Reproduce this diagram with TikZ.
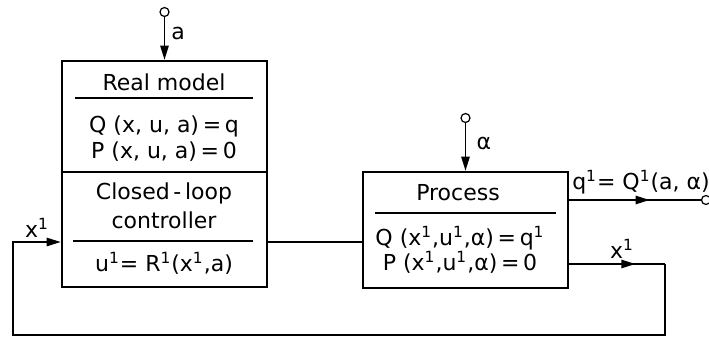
\documentclass[tikz,border=0pt]{standalone}
\usepackage{fontspec}
\setmainfont{DejaVu Sans}
\usetikzlibrary{arrows.meta, positioning, calc, decorations.markings}
\tikzset{
	blockbox/.style={draw, line width=1.3pt, minimum width=102.5pt, inner sep=0pt},
	txt/.style={font=\fontsize{11}{12}\selectfont, inner sep=1pt},
	sigline/.style={line width=0.7pt},
	sigarr/.style={sigline, -{Triangle[length=7pt, width=4.2pt]}},
	midarr/.style={sigline, decoration={markings, mark=at position #1 with {\arrow{Triangle[length=7pt, width=4.2pt]}}}, postaction={decorate}},
	terminal/.style={draw, circle, minimum size=4.5pt, inner sep=0pt, line width=0.6pt},
}

\begin{document}
\begin{tikzpicture}[x=0.5pt, y=-0.5pt]
	\useasboundingbox (0,0) rectangle (709,338);
	% blocks
	\node[blockbox, minimum height=113pt] (model) at (164.5,174) {};
	\node[blockbox, minimum height=58pt] (proc) at (465.5,230) {};
	% real model / controller
	\node[txt] (mtitle) at (164,82) {Real model};
	\draw[sigline] (75,98) -- (253,98);
	\node[txt] (mq) at (164,126) {Q (x, u, a)\,=\,q};
	\node[txt] (mp) at (164,152) {P (x, u, a)\,=\,0};
	\draw[line width=1pt] (model.west |- 0,172) -- (model.east |- 0,172);
	\node[txt] (ctitle) at (164,193) {Closed\,-\,loop};
	\node[txt] (ctitle2) at (164,220) {controller};
	\draw[sigline] (73,241) -- (253,241);
	\node[txt] (claw) at (164,263) {u\textsuperscript{1}= R\textsuperscript{1}(x\textsuperscript{1},a)};
	% process
	\node[txt] (ptitle) at (458,193) {Process};
	\draw[sigline] (375,213) -- (556,213);
	\node[txt] (pq) at (460,238) {Q (x\textsuperscript{1},u\textsuperscript{1},α)\,=\,q\textsuperscript{1}};
	\node[txt] (pp) at (460,262) {P (x\textsuperscript{1},u\textsuperscript{1},α)\,=\,0};
	% inputs
	\node[terminal] (ain) at (164.5,12) {};
	\node[terminal] (alin) at (465.5,118) {};
	\node[txt] (alab) at (178,33) {a};
	\node[txt] (allab) at (484,143) {α};
	\draw[sigarr] (ain) -- (model.north);
	\draw[sigarr] (alin) -- (proc.north);
	% signals
	\coordinate (uline) at (0,242);
	\draw[sigline] (model.east |- uline) -- (proc.west |- uline);
	\node[terminal] (qout) at (706,200) {};
	\draw[midarr=0.61] (proc.east |- qout) -- (qout);
	\node[txt] (qlab) at (641,182) {q\textsuperscript{1}= Q\textsuperscript{1}(a, α)};
	% feedback
	\coordinate (fbR) at (665,264);
	\coordinate (fbB) at (665,335);
	\coordinate (fbL) at (13,335);
	\draw[midarr=0.69] (proc.east |- fbR) -- (fbR);
	\draw[sigarr] (fbR) -- (fbB) -- (fbL) -- (fbL |- uline) -- (model.west |- uline);
	\node[txt] (xolab) at (622,249) {x\textsuperscript{1}};
	\node[txt] (xilab) at (37,228) {x\textsuperscript{1}};
\end{tikzpicture}
\end{document}
